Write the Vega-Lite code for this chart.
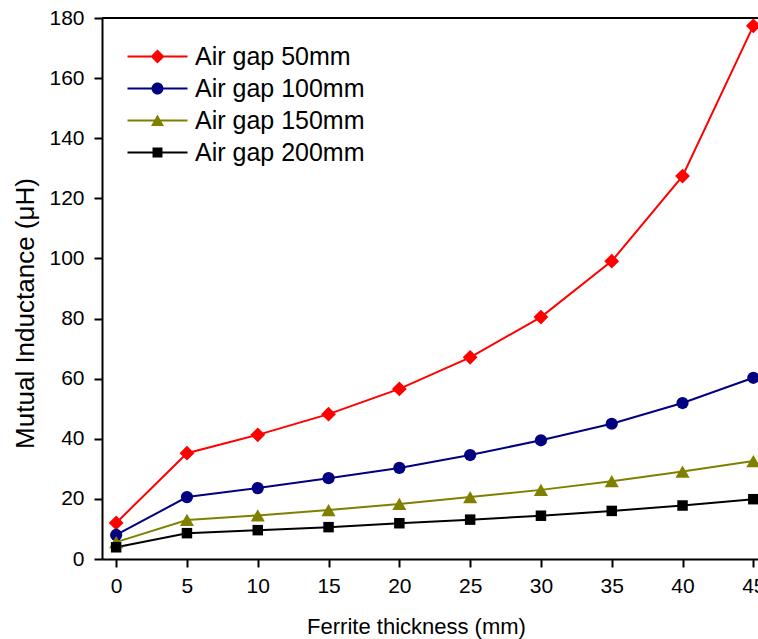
{
  "$schema": "https://vega.github.io/schema/vega-lite/v6.json",
  "autosize": {"type": "none"},
  "padding": {"left": 102, "top": 18, "right": 0, "bottom": 80},
  "width": 656,
  "height": 541,
  "background": "white",
  "config": {
    "view": {"stroke": null},
    "font": "Liberation Sans",
    "axis": {
      "grid": false,
      "domainColor": "black",
      "domainWidth": 2,
      "tickColor": "black",
      "tickWidth": 2,
      "tickSize": 8,
      "labelColor": "black",
      "labelFont": "Liberation Sans",
      "labelFontSize": 21,
      "titleColor": "black",
      "titleFont": "Liberation Sans",
      "titleFontWeight": "normal"
    }
  },
  "data": {
    "values": [
      {"series": "Air gap 50mm", "thickness": 0, "inductance": 12.0},
      {"series": "Air gap 50mm", "thickness": 5, "inductance": 35.2},
      {"series": "Air gap 50mm", "thickness": 10, "inductance": 41.3},
      {"series": "Air gap 50mm", "thickness": 15, "inductance": 48.2},
      {"series": "Air gap 50mm", "thickness": 20, "inductance": 56.6},
      {"series": "Air gap 50mm", "thickness": 25, "inductance": 67.1},
      {"series": "Air gap 50mm", "thickness": 30, "inductance": 80.5},
      {"series": "Air gap 50mm", "thickness": 35, "inductance": 99.1},
      {"series": "Air gap 50mm", "thickness": 40, "inductance": 127.4},
      {"series": "Air gap 50mm", "thickness": 45, "inductance": 177.4},
      {"series": "Air gap 100mm", "thickness": 0, "inductance": 8.0},
      {"series": "Air gap 100mm", "thickness": 5, "inductance": 20.6},
      {"series": "Air gap 100mm", "thickness": 10, "inductance": 23.6},
      {"series": "Air gap 100mm", "thickness": 15, "inductance": 26.9},
      {"series": "Air gap 100mm", "thickness": 20, "inductance": 30.3},
      {"series": "Air gap 100mm", "thickness": 25, "inductance": 34.6},
      {"series": "Air gap 100mm", "thickness": 30, "inductance": 39.5},
      {"series": "Air gap 100mm", "thickness": 35, "inductance": 45.0},
      {"series": "Air gap 100mm", "thickness": 40, "inductance": 51.9},
      {"series": "Air gap 100mm", "thickness": 45, "inductance": 60.3},
      {"series": "Air gap 150mm", "thickness": 0, "inductance": 5.6},
      {"series": "Air gap 150mm", "thickness": 5, "inductance": 13.0},
      {"series": "Air gap 150mm", "thickness": 10, "inductance": 14.5},
      {"series": "Air gap 150mm", "thickness": 15, "inductance": 16.3},
      {"series": "Air gap 150mm", "thickness": 20, "inductance": 18.3},
      {"series": "Air gap 150mm", "thickness": 25, "inductance": 20.6},
      {"series": "Air gap 150mm", "thickness": 30, "inductance": 23.0},
      {"series": "Air gap 150mm", "thickness": 35, "inductance": 25.9},
      {"series": "Air gap 150mm", "thickness": 40, "inductance": 29.1},
      {"series": "Air gap 150mm", "thickness": 45, "inductance": 32.6},
      {"series": "Air gap 200mm", "thickness": 0, "inductance": 3.9},
      {"series": "Air gap 200mm", "thickness": 5, "inductance": 8.6},
      {"series": "Air gap 200mm", "thickness": 10, "inductance": 9.6},
      {"series": "Air gap 200mm", "thickness": 15, "inductance": 10.6},
      {"series": "Air gap 200mm", "thickness": 20, "inductance": 11.9},
      {"series": "Air gap 200mm", "thickness": 25, "inductance": 13.1},
      {"series": "Air gap 200mm", "thickness": 30, "inductance": 14.4},
      {"series": "Air gap 200mm", "thickness": 35, "inductance": 16.0},
      {"series": "Air gap 200mm", "thickness": 40, "inductance": 17.8},
      {"series": "Air gap 200mm", "thickness": 45, "inductance": 19.9}
    ]
  },
  "encoding": {
    "x": {
      "field": "thickness",
      "type": "quantitative",
      "scale": {"domain": [-1, 45.33], "nice": false, "zero": false},
      "axis": {
        "values": [0, 5, 10, 15, 20, 25, 30, 35, 40, 45],
        "title": "Ferrite thickness (mm)",
        "titleFontSize": 22,
        "titleX": 314,
        "titleY": 74,
        "titleAlign": "center",
        "titleBaseline": "alphabetic",
        "labelPadding": 8,
        "labelFlush": false,
        "labelOverlap": false
      }
    },
    "y": {
      "field": "inductance",
      "type": "quantitative",
      "scale": {"domain": [0, 180], "nice": false},
      "axis": {
        "values": [0, 20, 40, 60, 80, 100, 120, 140, 160, 180],
        "title": "Mutual Inductance (μH)",
        "titleFontSize": 26,
        "titleAngle": -90,
        "titleX": -69,
        "titleY": 295,
        "titleAlign": "center",
        "titleBaseline": "alphabetic",
        "labelPadding": 10,
        "labelFlush": false,
        "labelOverlap": false
      }
    },
    "color": {
      "field": "series",
      "type": "nominal",
      "sort": ["Air gap 50mm", "Air gap 100mm", "Air gap 150mm", "Air gap 200mm"],
      "scale": {
        "domain": ["Air gap 50mm", "Air gap 100mm", "Air gap 150mm", "Air gap 200mm"],
        "range": ["#ff0000", "#000080", "#808000", "#000000"]
      }
    }
  },
  "layer": [
    {
      "mark": {"type": "rule", "color": "black", "strokeWidth": 2},
      "encoding": {
        "y": {"datum": 180},
        "x": null,
        "color": null
      }
    },
    {
      "mark": {"type": "line", "strokeWidth": 2},
      "encoding": {
        "detail": {"field": "series"}
      }
    },
    {
      "mark": {"type": "point", "filled": true, "opacity": 1, "strokeWidth": 0},
      "encoding": {
        "shape": {
          "condition": [
            {"test": "datum.series == 'Air gap 50mm'", "value": "diamond"},
            {"test": "datum.series == 'Air gap 100mm'", "value": "circle"},
            {"test": "datum.series == 'Air gap 150mm'", "value": "triangle-up"}
          ],
          "value": "square"
        },
        "size": {
          "condition": [
            {"test": "datum.series == 'Air gap 50mm'", "value": 220},
            {"test": "datum.series == 'Air gap 100mm'", "value": 150},
            {"test": "datum.series == 'Air gap 150mm'", "value": 200}
          ],
          "value": 110
        },
        "color": {
          "field": "series",
          "type": "nominal",
          "legend": {
            "title": null,
            "orient": "none",
            "legendX": 43,
            "legendY": 26,
            "padding": 0,
            "symbolSize": 144,
            "symbolStrokeWidth": 0,
            "symbolOpacity": 1,
            "labelFont": "Liberation Sans",
            "labelFontSize": 25,
            "labelColor": "black",
            "labelOffset": 25,
            "rowPadding": 6,
            "labelLimit": 400,
            "encode": {
              "symbols": {
                "update": {
                  "shape": {
                    "signal": "datum.value == 'Air gap 50mm' ? 'M-5,-0.17H5V0.17H-5Z M0,-1.17L1.17,0L0,1.17L-1.17,0Z' : datum.value == 'Air gap 100mm' ? 'M-5,-0.17H5V0.17H-5Z M-1,0A1,1,0,1,1,1,0A1,1,0,1,1,-1,0Z' : datum.value == 'Air gap 150mm' ? 'M-5,-0.17H5V0.17H-5Z M0,-1L1.08,0.9L-1.08,0.9Z' : 'M-5,-0.17H5V0.17H-5Z M-0.83,-0.83H0.83V0.83H-0.83Z'"
                  },
                  "size": {"value": 144},
                  "strokeWidth": {"value": 0}
                }
              }
            }
          }
        }
      }
    }
  ]
}
